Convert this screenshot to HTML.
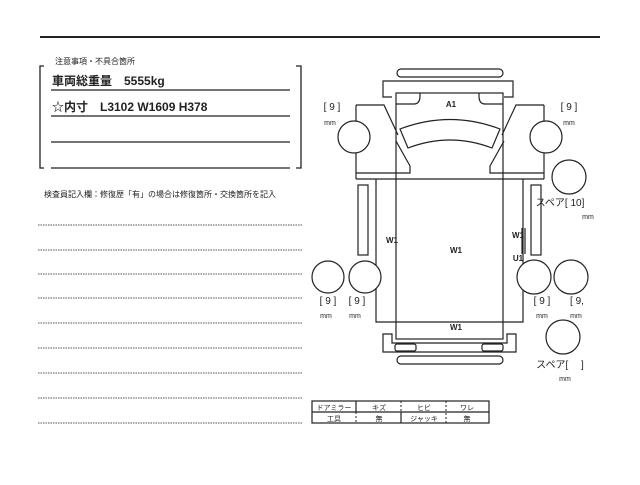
<!DOCTYPE html>
<html><head><meta charset="utf-8"><style>
body{margin:0;background:#fff;width:640px;height:480px;overflow:hidden}
svg text{font-family:"Liberation Sans","Noto Sans CJK JP",sans-serif;fill:#222}
</style></head><body>
<svg width="640" height="480" viewBox="0 0 640 480" xmlns="http://www.w3.org/2000/svg">
<g stroke="#222" fill="none">
<line x1="40" y1="37" x2="600" y2="37" stroke-width="2"/>
<polyline points="44,66 40,66 40,168 44,168" stroke-width="1.3"/>
<polyline points="296,66 301,66 301,168 296,168" stroke-width="1.3"/>
<g stroke-width="1.2">
<line x1="51" y1="90" x2="290" y2="90"/><line x1="51" y1="116" x2="290" y2="116"/>
<line x1="51" y1="142" x2="290" y2="142"/><line x1="51" y1="168" x2="290" y2="168"/>
</g>
<g stroke-width="1" stroke-dasharray="1.5,1" stroke="#555">
<line x1="38" y1="225" x2="302" y2="225"/><line x1="38" y1="250" x2="302" y2="250"/>
<line x1="38" y1="274" x2="302" y2="274"/><line x1="38" y1="298" x2="302" y2="298"/>
<line x1="38" y1="323" x2="302" y2="323"/><line x1="38" y1="348" x2="302" y2="348"/>
<line x1="38" y1="373" x2="302" y2="373"/><line x1="38" y1="398" x2="302" y2="398"/>
<line x1="38" y1="423" x2="302" y2="423"/>
</g>
<g stroke-width="1.2">
<rect x="397" y="69" width="106" height="8" rx="4"/>
<polyline points="392,97 383,97 383,81 513,81 513,97 504,97"/>
<rect x="396" y="93" width="107" height="246"/>
<path d="M396,104 H414 Q420,104 420,96 V93"/>
<path d="M503,104 H485 Q479,104 479,96 V93"/>
<path d="M400,129 Q450,110 500,129 L492,148 Q450,132 408,148 Z"/>
<polyline points="356,105 384,105 398,135"/>
<polyline points="396,141 410,166 410,173 356,173"/>
<line x1="356" y1="105" x2="356" y2="179"/>
<polyline points="544,105 516,105 502,135"/>
<polyline points="504,141 490,166 490,173 544,173"/>
<line x1="544" y1="105" x2="544" y2="179"/>
<line x1="356" y1="179" x2="544" y2="179"/>
<polyline points="376,179 376,322 523,322 523,179"/>
<circle cx="354" cy="137" r="16" fill="#fff"/>
<circle cx="546" cy="137" r="16" fill="#fff"/>
<circle cx="569" cy="177" r="17"/>
<rect x="358" y="185" width="10" height="70"/>
<rect x="531" y="185" width="10" height="70"/>
<line x1="522" y1="228" x2="522" y2="254"/><line x1="525" y1="228" x2="525" y2="254"/>
<circle cx="328" cy="277" r="16"/>
<circle cx="365" cy="277" r="16" fill="#fff"/>
<circle cx="534" cy="277" r="17" fill="#fff"/>
<circle cx="571" cy="277" r="17"/>
<circle cx="563" cy="337" r="17"/>
<path d="M392,334 L383,334 L383,352 L516,352 L516,334 L507,334 L507,343 L392,343 Z"/>
<rect x="395" y="344" width="21" height="7" rx="2"/>
<rect x="482" y="344" width="21" height="7" rx="2"/>
<rect x="397" y="356" width="106" height="8" rx="4"/>
</g>
<g stroke-width="1.2">
<rect x="312" y="401" width="177" height="22"/>
<line x1="312" y1="412" x2="489" y2="412"/>
<line x1="356" y1="401" x2="356" y2="412"/>
<line x1="401" y1="412" x2="401" y2="423"/>
</g>
<g stroke-width="1" stroke-dasharray="2,2">
<line x1="356" y1="412" x2="356" y2="423"/>
<line x1="401" y1="401" x2="401" y2="412"/>
<line x1="446" y1="401" x2="446" y2="423"/>
</g>
</g>
<text x="55" y="64" font-size="8">注意事項・不具合箇所</text>
<text x="52" y="85" font-size="12" font-weight="bold">車両総重量　5555kg</text>
<text x="52" y="111" font-size="12" font-weight="bold">☆内寸　L3102 W1609 H378</text>
<text x="44" y="197" font-size="8">検査員記入欄：修復歴「有」の場合は修復箇所・交換箇所を記入</text>
<g font-size="8" font-weight="bold" text-anchor="middle">
<text x="451" y="107">A1</text><text x="456" y="253">W1</text><text x="392" y="243">W1</text>
<text x="518" y="238">W1</text><text x="518" y="261">U1</text><text x="456" y="330">W1</text>
</g>
<g font-size="10" text-anchor="middle">
<text x="332" y="110">[ 9 ]</text><text x="330" y="125" font-size="7">mm</text>
<text x="569" y="110">[ 9 ]</text><text x="569" y="125" font-size="7">mm</text>
<text x="328" y="304">[ 9 ]</text><text x="326" y="318" font-size="7">mm</text>
<text x="357" y="304">[ 9 ]</text><text x="355" y="318" font-size="7">mm</text>
<text x="542" y="304">[ 9 ]</text><text x="542" y="318" font-size="7">mm</text>
<text x="577" y="304">[ 9,</text><text x="576" y="318" font-size="7">mm</text>
<text x="560" y="206">スペア[ 10]</text><text x="588" y="219" font-size="7">mm</text>
<text x="560" y="368">スペア[　 ]</text><text x="565" y="381" font-size="7">mm</text>
</g>
<g font-size="7" text-anchor="middle">
<text x="334" y="410">ドアミラー</text><text x="379" y="410">キズ</text><text x="424" y="410">ヒビ</text><text x="467" y="410">ワレ</text>
<text x="334" y="421">工具</text><text x="379" y="421">無</text><text x="424" y="421">ジャッキ</text><text x="467" y="421">無</text>
</g>
</svg>
</body></html>
